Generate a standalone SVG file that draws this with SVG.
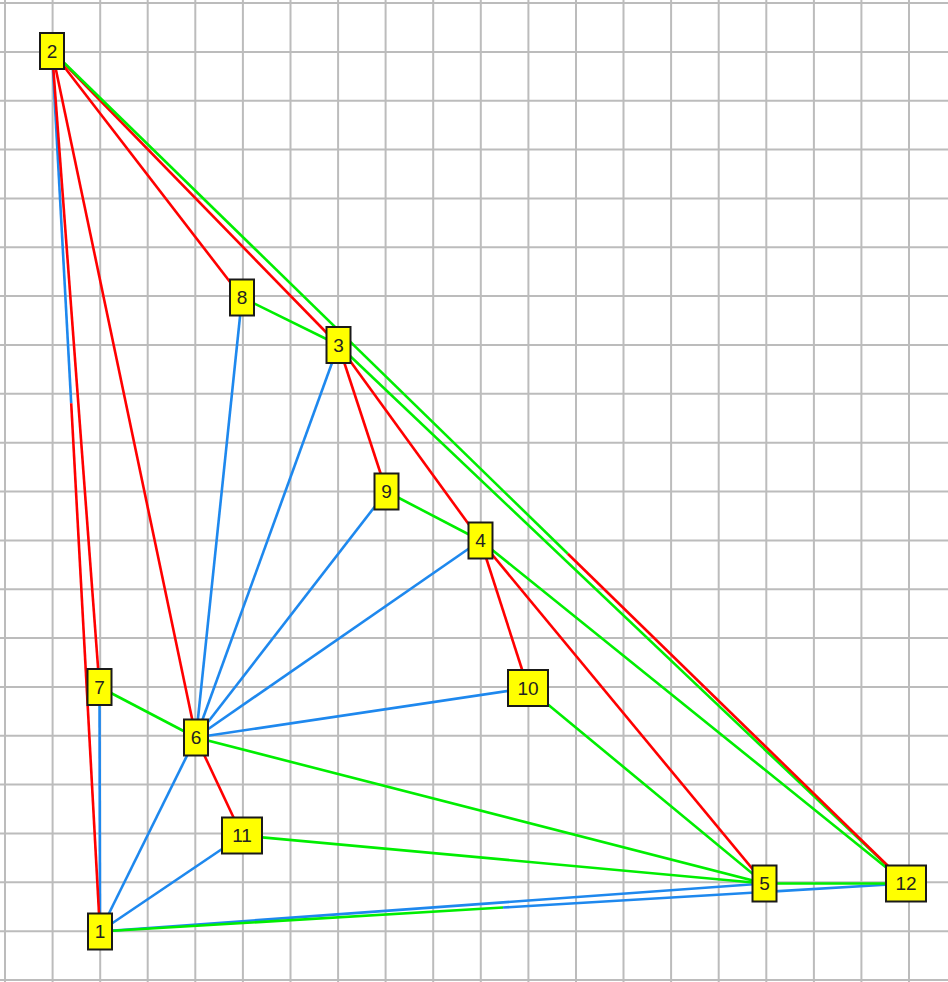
<svg xmlns="http://www.w3.org/2000/svg" width="948" height="982" viewBox="0 0 948 982">
<style>
.grid line{stroke:#bcbcbc;stroke-width:2}
.e{stroke-width:2.6;fill:none;stroke-linecap:butt}
.b{stroke:#1e88ee}
.r{stroke:#ff0000}
.g{stroke:#00ee00}
.node rect{fill:#ffff00;stroke:#1a1a1a;stroke-width:2}
.node text{font-family:"Liberation Sans",Arial,sans-serif;font-size:19px;fill:#222;text-anchor:middle}
</style>
<rect width="948" height="982" fill="#ffffff"/>
<g class="grid">
<line x1="5" y1="0" x2="5" y2="982"/><line x1="52.6" y1="0" x2="52.6" y2="982"/><line x1="100.2" y1="0" x2="100.2" y2="982"/><line x1="147.7" y1="0" x2="147.7" y2="982"/><line x1="195.3" y1="0" x2="195.3" y2="982"/><line x1="242.9" y1="0" x2="242.9" y2="982"/><line x1="290.5" y1="0" x2="290.5" y2="982"/><line x1="338.1" y1="0" x2="338.1" y2="982"/><line x1="385.6" y1="0" x2="385.6" y2="982"/><line x1="433.2" y1="0" x2="433.2" y2="982"/><line x1="480.8" y1="0" x2="480.8" y2="982"/><line x1="528.4" y1="0" x2="528.4" y2="982"/><line x1="576" y1="0" x2="576" y2="982"/><line x1="623.5" y1="0" x2="623.5" y2="982"/><line x1="671.1" y1="0" x2="671.1" y2="982"/><line x1="718.7" y1="0" x2="718.7" y2="982"/><line x1="766.3" y1="0" x2="766.3" y2="982"/><line x1="813.9" y1="0" x2="813.9" y2="982"/><line x1="861.4" y1="0" x2="861.4" y2="982"/><line x1="909" y1="0" x2="909" y2="982"/>
<line x1="0" y1="3" x2="948" y2="3"/><line x1="0" y1="51.9" x2="948" y2="51.9"/><line x1="0" y1="100.7" x2="948" y2="100.7"/><line x1="0" y1="149.6" x2="948" y2="149.6"/><line x1="0" y1="198.4" x2="948" y2="198.4"/><line x1="0" y1="247.3" x2="948" y2="247.3"/><line x1="0" y1="296.1" x2="948" y2="296.1"/><line x1="0" y1="345" x2="948" y2="345"/><line x1="0" y1="393.8" x2="948" y2="393.8"/><line x1="0" y1="442.7" x2="948" y2="442.7"/><line x1="0" y1="491.5" x2="948" y2="491.5"/><line x1="0" y1="540.4" x2="948" y2="540.4"/><line x1="0" y1="589.2" x2="948" y2="589.2"/><line x1="0" y1="638.1" x2="948" y2="638.1"/><line x1="0" y1="686.9" x2="948" y2="686.9"/><line x1="0" y1="735.8" x2="948" y2="735.8"/><line x1="0" y1="784.6" x2="948" y2="784.6"/><line x1="0" y1="833.5" x2="948" y2="833.5"/><line x1="0" y1="882.3" x2="948" y2="882.3"/><line x1="0" y1="931.2" x2="948" y2="931.2"/><line x1="0" y1="980" x2="948" y2="980"/>
</g>
<g id="connectors">
<line class="e b" x1="52" y1="51" x2="71.2" y2="403.2"/>
<line class="e b" x1="99.5" y1="687" x2="100" y2="931.5"/>
<line class="e b" x1="242" y1="297.5" x2="196" y2="737.5"/>
<line class="e b" x1="338.5" y1="345" x2="196" y2="737.5"/>
<line class="e b" x1="386.5" y1="491.5" x2="196" y2="737.5"/>
<line class="e b" x1="480.5" y1="540.5" x2="196" y2="737.5"/>
<line class="e b" x1="528" y1="688" x2="196" y2="737.5"/>
<line class="e b" x1="196" y1="737.5" x2="100" y2="931.5"/>
<line class="e b" x1="242" y1="835.5" x2="100" y2="931.5"/>
<line class="e b" x1="100" y1="931.5" x2="764.5" y2="883.5"/>
<line class="e b" x1="503" y1="907.5" x2="906" y2="883.5"/>
<line class="e r" x1="71.2" y1="403.2" x2="100" y2="931.5"/>
<line class="e r" x1="52" y1="51" x2="99.5" y2="687"/>
<line class="e r" x1="52" y1="51" x2="196" y2="737.5"/>
<line class="e r" x1="52" y1="51" x2="242" y2="297.5"/>
<line class="e r" x1="52" y1="51" x2="338.5" y2="345"/>
<line class="e r" x1="338.5" y1="345" x2="386.5" y2="491.5"/>
<line class="e r" x1="338.5" y1="345" x2="480.5" y2="540.5"/>
<line class="e r" x1="480.5" y1="540.5" x2="528" y2="688"/>
<line class="e r" x1="480.5" y1="540.5" x2="764.5" y2="883.5"/>
<line class="e r" x1="196" y1="737.5" x2="242" y2="835.5"/>
<line class="e g" x1="242" y1="297.5" x2="338.5" y2="345"/>
<line class="e g" x1="338.5" y1="345" x2="906" y2="883.5"/>
<line class="e g" x1="386.5" y1="491.5" x2="480.5" y2="540.5"/>
<line class="e g" x1="480.5" y1="540.5" x2="906" y2="883.5"/>
<line class="e g" x1="528" y1="688" x2="764.5" y2="883.5"/>
<line class="e g" x1="99.5" y1="687" x2="196" y2="737.5"/>
<line class="e g" x1="196" y1="737.5" x2="764.5" y2="883.5"/>
<line class="e g" x1="242" y1="835.5" x2="764.5" y2="883.5"/>
<line class="e g" x1="764.5" y1="883.5" x2="906" y2="883.5"/>
<line class="e g" x1="100" y1="931.5" x2="503" y2="907.5"/>
<line class="e g" x1="52" y1="51" x2="567.8" y2="553.8"/>
<line class="e r" x1="567.8" y1="553.8" x2="906" y2="883.5"/>
</g>
<g id="n1" class="node"><rect x="88" y="913.5" width="24" height="36"/><text x="100" y="938">1</text></g>
<g id="n2" class="node"><rect x="40" y="33" width="24" height="36"/><text x="52" y="57.5">2</text></g>
<g id="n3" class="node"><rect x="326.5" y="327" width="24" height="36"/><text x="338.5" y="351.5">3</text></g>
<g id="n4" class="node"><rect x="468.5" y="522.5" width="24" height="36"/><text x="480.5" y="547">4</text></g>
<g id="n5" class="node"><rect x="752.5" y="865.5" width="24" height="36"/><text x="764.5" y="890">5</text></g>
<g id="n6" class="node"><rect x="184" y="719.5" width="24" height="36"/><text x="196" y="744">6</text></g>
<g id="n7" class="node"><rect x="87.5" y="669" width="24" height="36"/><text x="99.5" y="693.5">7</text></g>
<g id="n8" class="node"><rect x="230" y="279.5" width="24" height="36"/><text x="242" y="304">8</text></g>
<g id="n9" class="node"><rect x="374.5" y="473.5" width="24" height="36"/><text x="386.5" y="498">9</text></g>
<g id="n10" class="node"><rect x="508" y="670" width="40" height="36"/><text x="528" y="694.5">10</text></g>
<g id="n11" class="node"><rect x="222" y="817.5" width="40" height="36"/><text x="242" y="842">11</text></g>
<g id="n12" class="node"><rect x="886" y="865.5" width="40" height="36"/><text x="906" y="890">12</text></g>
</svg>
